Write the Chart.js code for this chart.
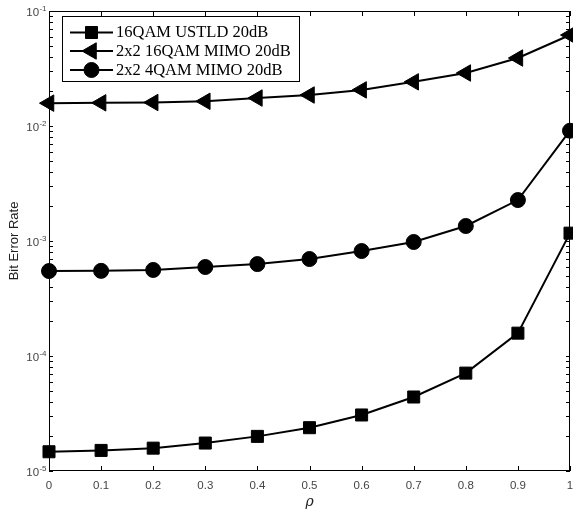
<!DOCTYPE html>
<html>
<head>
<meta charset="utf-8">
<script src="https://cdn.jsdelivr.net/npm/chart.js@4/dist/chart.umd.min.js"></script>
<style>
html,body{margin:0;padding:0;background:#fff;overflow:hidden;}
#wrap{width:573px;height:517px;position:relative;}
canvas{display:block;}
</style>
</head>
<body>
<div id="wrap"><canvas id="c" width="573" height="517"></canvas></div>
<script>
// ---- data ----
const rho = [0, 0.1, 0.2, 0.3, 0.4, 0.5, 0.6, 0.7, 0.8, 0.9, 1.0];
const berUSTLD16 = [1.47e-5, 1.51e-5, 1.58e-5, 1.75e-5, 2.0e-5, 2.38e-5, 3.07e-5, 4.4e-5, 7.1e-5, 1.58e-4, 1.17e-3];
const berMIMO16 = [0.0158, 0.0159, 0.0160, 0.0164, 0.0175, 0.0186, 0.0206, 0.0242, 0.0289, 0.039, 0.0618];
const berMIMO4 = [5.48e-4, 5.5e-4, 5.6e-4, 5.94e-4, 6.3e-4, 6.97e-4, 8.18e-4, 9.8e-4, 1.35e-3, 2.27e-3, 9.1e-3];
const seriesNames = ['16QAM USTLD 20dB', '2x2 16QAM MIMO 20dB', '2x2 4QAM MIMO 20dB'];
const xTickLabels = ['0', '0.1', '0.2', '0.3', '0.4', '0.5', '0.6', '0.7', '0.8', '0.9', '1'];
const yMajorTicks = [1e-5, 1e-4, 1e-3, 1e-2, 1e-1];
const yMajorExponents = ['-5', '-4', '-3', '-2', '-1'];
const yAxisTitle = 'Bit Error Rate';
const xAxisTitle = 'ρ';

const toPts = arr => arr.map((v, i) => ({x: rho[i], y: v}));
const styles = [
  {pointStyle: 'rect', radius: 8.5, rotation: 0},
  {pointStyle: 'triangle', radius: 9.5, rotation: -90},
  {pointStyle: 'circle', radius: 7.5, rotation: 0}
];
const seriesData = [berUSTLD16, berMIMO16, berMIMO4];

function drawMarker(ctx, st, x, y) {
  if (Chart.helpers && Chart.helpers.drawPoint) {
    Chart.helpers.drawPoint(ctx, {pointStyle: st.pointStyle, radius: st.radius, rotation: st.rotation, borderWidth: 1}, x, y);
  }
}

const framePlugin = {
  id: 'frame',
  beforeDatasetsDraw(chart) {
    const {ctx, chartArea: a, scales: {x, y}} = chart;
    ctx.save();
    ctx.strokeStyle = '#000';
    ctx.lineWidth = 1;
    ctx.strokeRect(Math.round(a.left) + 0.5, Math.round(a.top) + 0.5, Math.round(a.right - a.left) - 1, Math.round(a.bottom - a.top) - 1);
    ctx.beginPath();
    x.ticks.forEach(t => {
      const px = Math.round(x.getPixelForValue(t.value)) + 0.5;
      ctx.moveTo(px, a.bottom); ctx.lineTo(px, a.bottom - 5);
      ctx.moveTo(px, a.top); ctx.lineTo(px, a.top + 5);
    });
    y.ticks.forEach(t => {
      const py = Math.round(y.getPixelForValue(t.value)) + 0.5;
      ctx.moveTo(a.left, py); ctx.lineTo(a.left + 4, py);
      ctx.moveTo(a.right, py); ctx.lineTo(a.right - 4, py);
    });
    ctx.stroke();
    // y tick labels with superscript exponents
    ctx.fillStyle = '#444';
    ctx.textAlign = 'right';
    ctx.textBaseline = 'middle';
    yMajorTicks.forEach((v, i) => {
      const py = y.getPixelForValue(v);
      const ex = yMajorExponents[i];
      ctx.font = '8px "Liberation Sans", Arial, sans-serif';
      const ew = ctx.measureText(ex).width;
      ctx.fillText(ex, 46.5, py - 2.5);
      ctx.font = '11.5px "Liberation Sans", Arial, sans-serif';
      ctx.fillText('10', 46.5 - ew - 0.3, py + 1.5);
    });
    ctx.restore();
  },
  afterDraw(chart) {
    const ctx = chart.ctx;
    ctx.save();
    // legend box
    const bx = 62, by = 16, bw = 237, bh = 65;
    ctx.fillStyle = '#fff';
    ctx.fillRect(bx, by, bw, bh);
    ctx.strokeStyle = '#000';
    ctx.lineWidth = 1;
    ctx.strokeRect(bx + 0.5, by + 0.5, bw, bh);
    const rowsY = [32.5, 51, 70];
    seriesNames.forEach((name, i) => {
      const yy = rowsY[i];
      ctx.strokeStyle = '#000';
      ctx.lineWidth = 2;
      ctx.beginPath();
      ctx.moveTo(70, yy); ctx.lineTo(113, yy);
      ctx.stroke();
      ctx.fillStyle = '#000';
      ctx.lineWidth = 1;
      drawMarker(ctx, styles[i], 91.5, yy);
      ctx.fillStyle = '#000';
      ctx.font = '16.5px "Liberation Serif", "Times New Roman", serif';
      ctx.textAlign = 'left';
      ctx.textBaseline = 'middle';
      ctx.fillText(name, 116, yy + 0.5);
    });
    ctx.restore();
  }
};

new Chart(document.getElementById('c'), {
  type: 'line',
  data: {
    datasets: seriesData.map((arr, i) => ({
      label: seriesNames[i],
      data: toPts(arr),
      borderColor: '#000',
      backgroundColor: '#000',
      borderWidth: 2,
      pointStyle: styles[i].pointStyle,
      pointRadius: styles[i].radius,
      pointRotation: styles[i].rotation,
      pointBackgroundColor: '#000',
      pointBorderColor: '#000',
      pointBorderWidth: 1,
      pointHoverRadius: styles[i].radius,
      tension: 0,
      clip: false
    }))
  },
  options: {
    responsive: false,
    animation: false,
    events: [],
    layout: {autoPadding: false, padding: {top: 11, right: 3, left: 0, bottom: 0}},
    plugins: {legend: {display: false}, tooltip: {enabled: false}},
    scales: {
      x: {
        type: 'linear',
        min: 0, max: 1,
        afterFit(scale) { scale.height = 46; scale.paddingLeft = 0; scale.paddingRight = 0; },
        afterBuildTicks(scale) { scale.ticks = rho.map(v => ({value: v})); },
        grid: {display: false, drawTicks: false},
        border: {display: false},
        ticks: {
          autoSkip: false,
          maxRotation: 0,
          padding: 8,
          color: '#444',
          font: {family: '"Liberation Sans", Arial, sans-serif', size: 11.5},
          callback: (v, i) => xTickLabels[i]
        },
        title: {
          display: true,
          text: xAxisTitle,
          color: '#222',
          font: {family: '"DejaVu Serif", "Liberation Serif", serif', size: 14, style: 'italic'},
          padding: {top: 0, bottom: 6}
        }
      },
      y: {
        type: 'logarithmic',
        min: 1e-5, max: 1e-1,
        afterFit(scale) { scale.width = 49; scale.paddingTop = 0; scale.paddingBottom = 0; },
        afterBuildTicks(scale) {
          const t = [];
          for (let e = -5; e <= -2; e++) for (let m = 1; m <= 9; m++) t.push({value: m * Math.pow(10, e)});
          t.push({value: 1e-1});
          scale.ticks = t;
        },
        grid: {display: false, drawTicks: false},
        border: {display: false},
        ticks: {display: false},
        title: {
          display: true,
          text: yAxisTitle,
          color: '#222',
          font: {family: '"Liberation Sans", Arial, sans-serif', size: 13},
          padding: {top: 7, bottom: 0}
        }
      }
    }
  },
  plugins: [framePlugin]
});
</script>
</body>
</html>
